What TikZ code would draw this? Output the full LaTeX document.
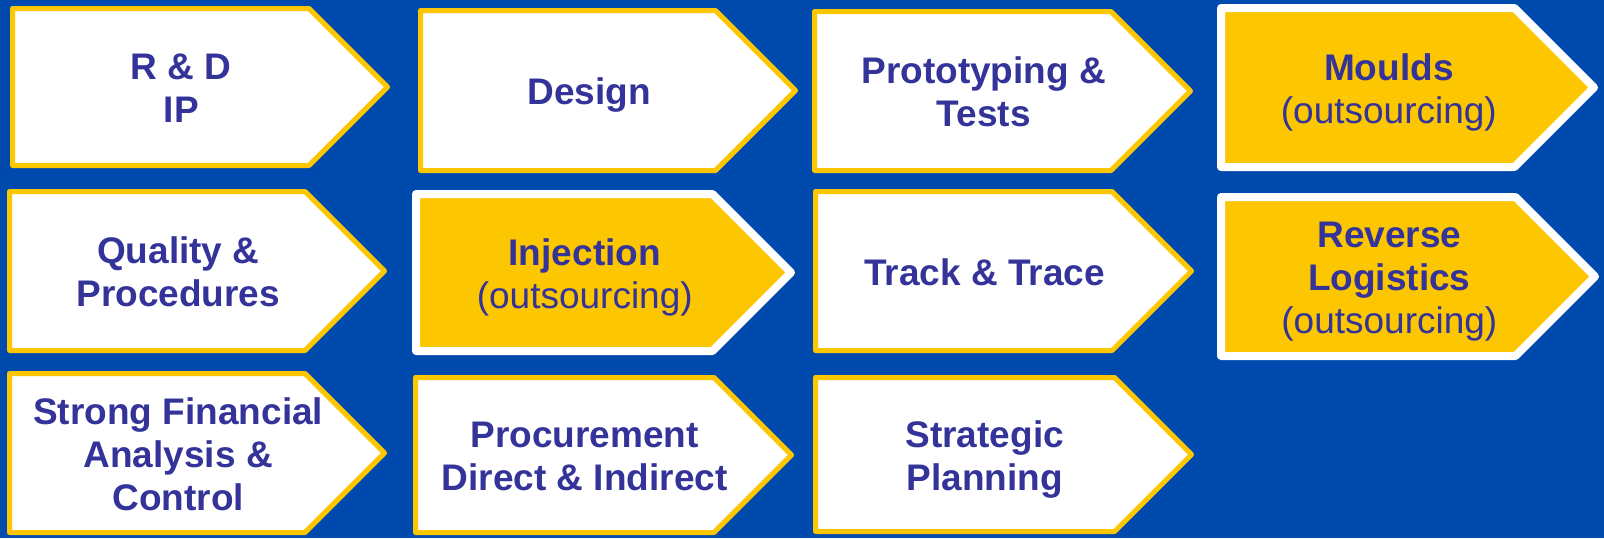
\documentclass[tikz,border=0pt]{standalone}
\usepackage{fontspec}
\setmainfont{Liberation Sans}
\definecolor{bgblue}{RGB}{0,74,173}
\definecolor{goldy}{RGB}{252,198,0}
\definecolor{txtblue}{RGB}{51,51,153}
% #1 style, #2 name, #3 left, #4 top, #5 bottom, #6 tip, #7 number of lines, #8 text
\newcommand{\pbox}[8]{%
  \pgfmathsetmacro\sx{#6-(#5-#4)/2}%
  \pgfmathsetmacro\my{(#4+#5)/2}%
  \pgfmathsetmacro\cx{#3+0.45*(#6-#3)}%
  \pgfmathsetmacro\by{\my+14.25+(#7-1)*21.5}%
  \draw[#1] (#3,#4) -- (\sx,#4) -- (#6,\my) -- (\sx,#5) -- (#3,#5) -- cycle;
  \node[lbl,anchor=base] (#2) at (\cx,\by) {#8};%
}
\begin{document}
\begin{tikzpicture}[x=0.5pt,y=-0.5pt,
  plainbox/.style={draw=goldy,fill=white,line width=2.5pt,line join=round},
  hotbox/.style={draw=white,fill=goldy,line width=4pt,line join=round},
  lbl/.style={inner sep=0pt,align=center,text=txtblue,font=\fontsize{18.5}{21.5}\selectfont\bfseries}]
\useasboundingbox (0,0) rectangle (1604,538);
\fill[bgblue] (0,0) rectangle (1604,538);
% row 1
\pbox{plainbox}{rd}{12.5}{8.5}{165.5}{387.5}{2}{R \& D\\IP}
\pbox{plainbox}{design}{420.5}{10.5}{170.5}{795.5}{1}{Design}
\pbox{plainbox}{proto}{814.5}{11.5}{170.5}{1190.5}{2}{Prototyping \&\\Tests}
\pbox{hotbox}{moulds}{1221}{8}{167}{1594}{2}{Moulds\\{\mdseries(outsourcing)}}
% row 2
\pbox{plainbox}{quality}{9.5}{191.5}{350.5}{384.5}{2}{Quality \&\\Procedures}
\pbox{hotbox}{injection}{416}{194}{351}{791}{2}{Injection\\{\mdseries(outsourcing)}}
\pbox{plainbox}{track}{815.5}{191.5}{350.5}{1191.5}{1}{Track \& Trace}
\pbox{hotbox}{reverse}{1221}{197}{356}{1595}{3}{Reverse\\Logistics\\{\mdseries(outsourcing)}}
% row 3
\pbox{plainbox}{finance}{9.5}{373.5}{532.5}{384.5}{3}{Strong Financial\\Analysis \&\\Control}
\pbox{plainbox}{procure}{415.5}{377.5}{532.5}{791.5}{2}{Procurement\\Direct \& Indirect}
\pbox{plainbox}{strategic}{815.5}{377.5}{531.5}{1191.5}{2}{Strategic\\Planning}
\end{tikzpicture}
\end{document}
